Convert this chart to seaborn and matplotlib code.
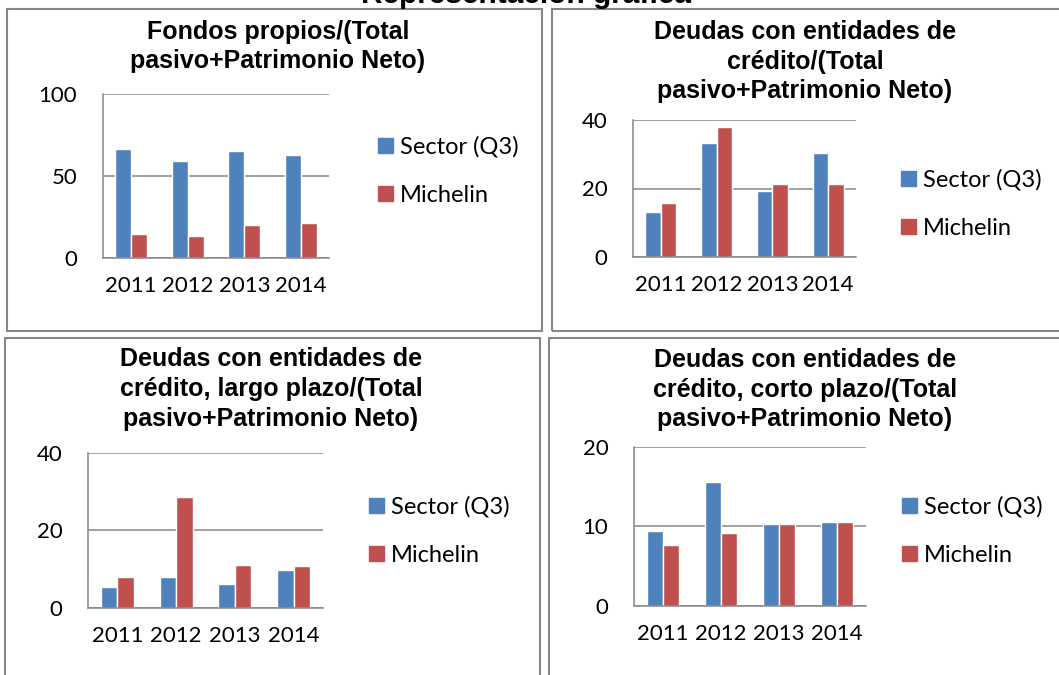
import pandas as pd
import matplotlib.pyplot as plt
from matplotlib.patches import Patch, Rectangle
import seaborn as sns

# datos
years = ["2011", "2012", "2013", "2014"]
series = ["Sector (Q3)", "Michelin"]

fondos_sector = [66.2, 58.9, 65.2, 62.9]
fondos_michelin = [14.3, 13.4, 20.2, 21.0]

deudas_sector = [13.0, 33.3, 19.4, 30.5]
deudas_michelin = [15.8, 38.1, 21.4, 21.4]

largo_sector = [5.5, 8.0, 6.3, 9.9]
largo_michelin = [8.1, 28.7, 11.0, 10.8]

corto_sector = [9.4, 15.6, 10.3, 10.5]
corto_michelin = [7.6, 9.1, 10.3, 10.5]

titles = [
    "Fondos propios/(Total\npasivo+Patrimonio Neto)",
    "Deudas con entidades de\ncrédito/(Total\npasivo+Patrimonio Neto)",
    "Deudas con entidades de\ncrédito, largo plazo/(Total\npasivo+Patrimonio Neto)",
    "Deudas con entidades de\ncrédito, corto plazo/(Total\npasivo+Patrimonio Neto)",
]
ymax = [100, 40, 40, 20]
ystep = [50, 20, 20, 10]

BLUE = "#4F81BD"
RED = "#C0504D"
GRAY = "#868686"

sns.set_style("white")
plt.rcParams["font.family"] = ["Lato", "DejaVu Sans"]
plt.rcParams["text.color"] = "black"

W, H = 1059, 675
fig = plt.figure(figsize=(W / 100, H / 100), dpi=100)


def fig_rect(x0, y0, x1, y1):
    return [x0 / W, 1 - y1 / H, (x1 - x0) / W, (y1 - y0) / H]


# marcos de cada gráfico (pixeles)
frames = [(7, 9, 541.5, 331.5), (552, 9, 1070, 331.5),
          (5, 338, 540, 690), (549, 338, 1070, 690)]
for x0, y0, x1, y1 in frames:
    fig.patches.append(Rectangle((x0 / W, 1 - y1 / H), (x1 - x0) / W, (y1 - y0) / H,
                                 transform=fig.transFigure, fill=False,
                                 edgecolor=GRAY, lw=1.5))

axes_px = [(103, 94, 329, 257.7), (633, 120, 856, 257),
           (88, 452.7, 323, 608), (634, 446.7, 866, 605.7)]
title_pos = [(278, 46.5), (805, 61.5), (271, 389), (805, 389.5)]
legend_pos = [(378, 171), (901, 204), (369, 531), (902, 531)]

data = [(fondos_sector, fondos_michelin), (deudas_sector, deudas_michelin),
        (largo_sector, largo_michelin), (corto_sector, corto_michelin)]

for i, (s, m) in enumerate(data):
    df = pd.DataFrame({
        "year": years * 2,
        "valor": list(s) + list(m),
        "serie": [series[0]] * 4 + [series[1]] * 4,
    })
    ax = fig.add_axes(fig_rect(*axes_px[i]))
    sns.barplot(data=df, x="year", y="valor", hue="serie", palette=[BLUE, RED],
                width=0.56, gap=0, saturation=1, legend=False, ax=ax)
    ax.set_xlim(-0.5, 3.5)
    ax.set_ylim(0, ymax[i])
    ax.set_yticks(range(0, ymax[i] + 1, ystep[i]))
    ax.set_xlabel("")
    ax.set_ylabel("")
    ax.grid(axis="y", color=GRAY, lw=1.1)
    ax.set_axisbelow(True)
    for side in ["top", "right"]:
        ax.spines[side].set_visible(False)
    for side in ["left", "bottom"]:
        ax.spines[side].set_color(GRAY)
        ax.spines[side].set_linewidth(1.1)
    ax.tick_params(axis="y", length=0, pad=18.5, labelsize=16, labelcolor="black")
    ax.tick_params(axis="x", length=0, pad=13, labelsize=16, labelcolor="black")

    tx, ty = title_pos[i]
    fig.text(tx / W, 1 - ty / H, titles[i], ha="center", va="center",
             fontsize=18, fontweight="bold", family="Liberation Sans",
             linespacing=1.3, multialignment="center", color="black")

    lx, ly = legend_pos[i]
    handles = [Patch(color=BLUE), Patch(color=RED)]
    fig.legend(handles, series, loc="center left",
               bbox_to_anchor=(lx / W, 1 - ly / H), frameon=False,
               borderpad=0, borderaxespad=0, fontsize=17,
               handlelength=0.64, handleheight=0.64, handletextpad=0.3,
               labelspacing=1.15, labelcolor="black")

# título general, cortado en el borde superior
fig.text(526 / W, 1 - 3 / H, "Representación gráfica", ha="center",
         va="baseline", fontsize=21.5, fontweight="bold", family="Liberation Sans",
         color="black")

fig.savefig("out.png", dpi=100)
